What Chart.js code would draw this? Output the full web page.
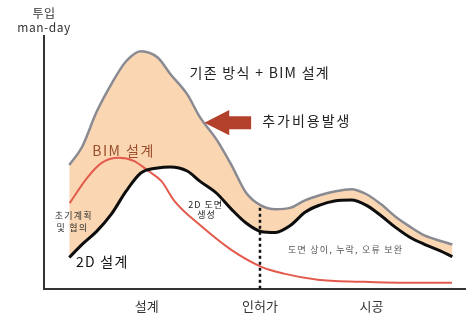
<!DOCTYPE html>
<html>
<head>
<meta charset="utf-8">
<script src="https://cdn.jsdelivr.net/npm/chart.js@4.4.1/dist/chart.umd.min.js"></script>
<style>
  html, body { margin: 0; padding: 0; background: #fff; }
  #wrap { width: 470px; height: 324px; }
</style>
</head>
<body>
<div id="wrap"><canvas id="effortChart"></canvas></div>
<script>
// x: 프로젝트 진행 (0-100), y: 투입 man-day (상대값 0-100)
const phaseLabels = ['설계', '인허가', '시공'];
const phaseTicks = [24.4, 51.3, 77.8];

const sharedX = [6, 9, 12.5, 16, 19.5, 23, 27, 30, 34, 37, 41, 44.5, 48, 51.5, 55, 58.5, 62, 65.5, 69, 73, 76.5, 80, 83.5, 87, 90.5, 94, 97];
const bimTotal = [49, 56, 70, 81, 90, 94, 91.5, 85, 77, 68, 59, 49, 38, 33, 31.5, 32, 35, 37, 38.5, 39.4, 37.5, 33.5, 28.5, 24.5, 21, 19, 17.5];
const design2d = [12.4, 17.5, 22.7, 29.5, 38.6, 45.8, 47.8, 48.2, 46.6, 42.6, 37.8, 31.5, 26, 22.7, 22.3, 25, 30.3, 33.1, 34.7, 35.1, 33.1, 29, 24.3, 20.3, 17.5, 15.1, 12.7];

const bimX = [6.1, 10.2, 13.7, 17.7, 21.3, 24.8, 27.9, 31, 37.4, 44.4, 51.5, 57, 65, 75.2, 84.6, 96.9];
const bimDesign = [33.9, 43.8, 49.8, 51.8, 50.6, 46.6, 42.6, 34.7, 24.7, 15.5, 8.8, 6, 3.6, 2.8, 2.4, 2.4];

const permitX = 51.3;
const permitTop = 32.7;

const KR = '"Noto Sans CJK KR", "Noto Sans", sans-serif';

function toPoints(xs, ys) {
    return xs.map((x, i) => ({ x: x, y: ys[i] }));
}

// 주석 (데이터 좌표)
const notes = [
    { text: '기존 방식 + BIM 설계', x: 51.1, y: 85.3, size: 14, sp: 1.3, color: '#222' },
    { text: '추가비용발생', x: 62.2, y: 66.5, size: 14, sp: 2, color: '#222' },
    { text: 'BIM 설계', x: 18.7, y: 54.8, size: 14, sp: 1.5, color: '#9a4e2c' },
    { text: '초기계획', x: 6.9, y: 29.0, size: 9, sp: 1.2, color: '#333' },
    { text: '및 협의', x: 6.6, y: 24.3, size: 9, sp: 1.2, color: '#333' },
    { text: '2D 설계', x: 13.7, y: 10.8, size: 14, sp: 1.3, color: '#111' },
    { text: '2D 도면', x: 38.3, y: 33.5, size: 9, sp: 1, color: '#222' },
    { text: '생성', x: 38.5, y: 29.5, size: 9, sp: 1, color: '#222' },
    { text: '도면 상이, 누락, 오류 보완', x: 71.5, y: 15.5, size: 9, sp: 1.2, color: '#555' }
];
const arrow = { tipX: 38.1, neckX: 44.0, tailX: 49.2, y: 65.7, headHalf: 5.0, shaftHalf: 2.6 };

const annotations = {
    id: 'annotations',
    afterDraw(chart) {
        const ctx = chart.ctx;
        const xs = chart.scales.x, ys = chart.scales.y;
        ctx.save();

        // 화살표
        const tip = xs.getPixelForValue(arrow.tipX);
        const neck = xs.getPixelForValue(arrow.neckX);
        const tail = xs.getPixelForValue(arrow.tailX);
        const cy = ys.getPixelForValue(arrow.y);
        const hh = ys.getPixelForValue(0) - ys.getPixelForValue(arrow.headHalf);
        const sh = ys.getPixelForValue(0) - ys.getPixelForValue(arrow.shaftHalf);
        ctx.fillStyle = '#b3402b';
        ctx.beginPath();
        ctx.moveTo(tip, cy);
        ctx.lineTo(neck, cy - hh);
        ctx.lineTo(neck, cy - sh);
        ctx.lineTo(tail, cy - sh);
        ctx.lineTo(tail, cy + sh);
        ctx.lineTo(neck, cy + sh);
        ctx.lineTo(neck, cy + hh);
        ctx.closePath();
        ctx.fill();

        // 텍스트
        ctx.textAlign = 'center';
        ctx.textBaseline = 'middle';
        notes.forEach(n => {
            ctx.font = n.size + 'px ' + KR;
            ctx.letterSpacing = n.sp + 'px';
            ctx.fillStyle = n.color;
            ctx.fillText(n.text, xs.getPixelForValue(n.x) + n.sp / 2, ys.getPixelForValue(n.y));
        });

        // y축 제목
        const ax = xs.getPixelForValue(0);
        ctx.fillStyle = '#333';
        ctx.font = '12px ' + KR;
        ctx.letterSpacing = '0.5px';
        ctx.fillText('투입', ax, 13);
        ctx.fillText('man-day', ax, 27);
        ctx.restore();
    }
};

const ctx = document.getElementById('effortChart').getContext('2d');
const effortChart = new Chart(ctx, {
    type: 'line',
    data: {
        datasets: [{
            label: '기존 방식 + BIM 설계',
            data: toPoints(sharedX, bimTotal),
            borderColor: '#8a8b92',
            borderWidth: 2.5,
            backgroundColor: 'rgba(250, 214, 178, 1)',
            fill: '+1',
            cubicInterpolationMode: 'monotone',
            pointRadius: 0
        }, {
            label: '2D 설계',
            data: toPoints(sharedX, design2d),
            borderColor: '#0d0d0d',
            borderWidth: 3,
            fill: false,
            cubicInterpolationMode: 'monotone',
            pointRadius: 0
        }, {
            label: 'BIM 설계',
            data: toPoints(bimX, bimDesign),
            borderColor: '#e35a4c',
            borderWidth: 2,
            fill: false,
            cubicInterpolationMode: 'monotone',
            pointRadius: 0
        }, {
            label: '인허가',
            data: [{ x: permitX, y: 0 }, { x: permitX, y: permitTop }],
            borderColor: '#111',
            borderWidth: 2.5,
            borderDash: [3, 3],
            fill: false,
            tension: 0,
            pointRadius: 0
        }]
    },
    options: {
        responsive: true,
        maintainAspectRatio: false,
        animation: false,
        layout: { padding: { left: 44, right: 5, top: 36, bottom: 1.6 } },
        plugins: {
            legend: { display: false },
            tooltip: { enabled: false },
            filler: { drawTime: 'beforeDatasetsDraw' }
        },
        scales: {
            x: {
                type: 'linear',
                min: 0,
                max: 100,
                grid: { display: false, drawTicks: false },
                border: { display: true, color: '#333', width: 2 },
                afterBuildTicks: axis => {
                    axis.ticks = phaseTicks.map(v => ({ value: v }));
                },
                ticks: {
                    autoSkip: false,
                    maxRotation: 0,
                    padding: 9,
                    color: '#333',
                    font: { family: KR, size: 13 },
                    callback: (value, index) => phaseLabels[index]
                }
            },
            y: {
                min: 0,
                max: 100,
                grid: { display: false, drawTicks: false },
                border: { display: true, color: '#333', width: 2 },
                ticks: { display: false }
            }
        }
    },
    plugins: [annotations]
});
</script>
</body>
</html>
